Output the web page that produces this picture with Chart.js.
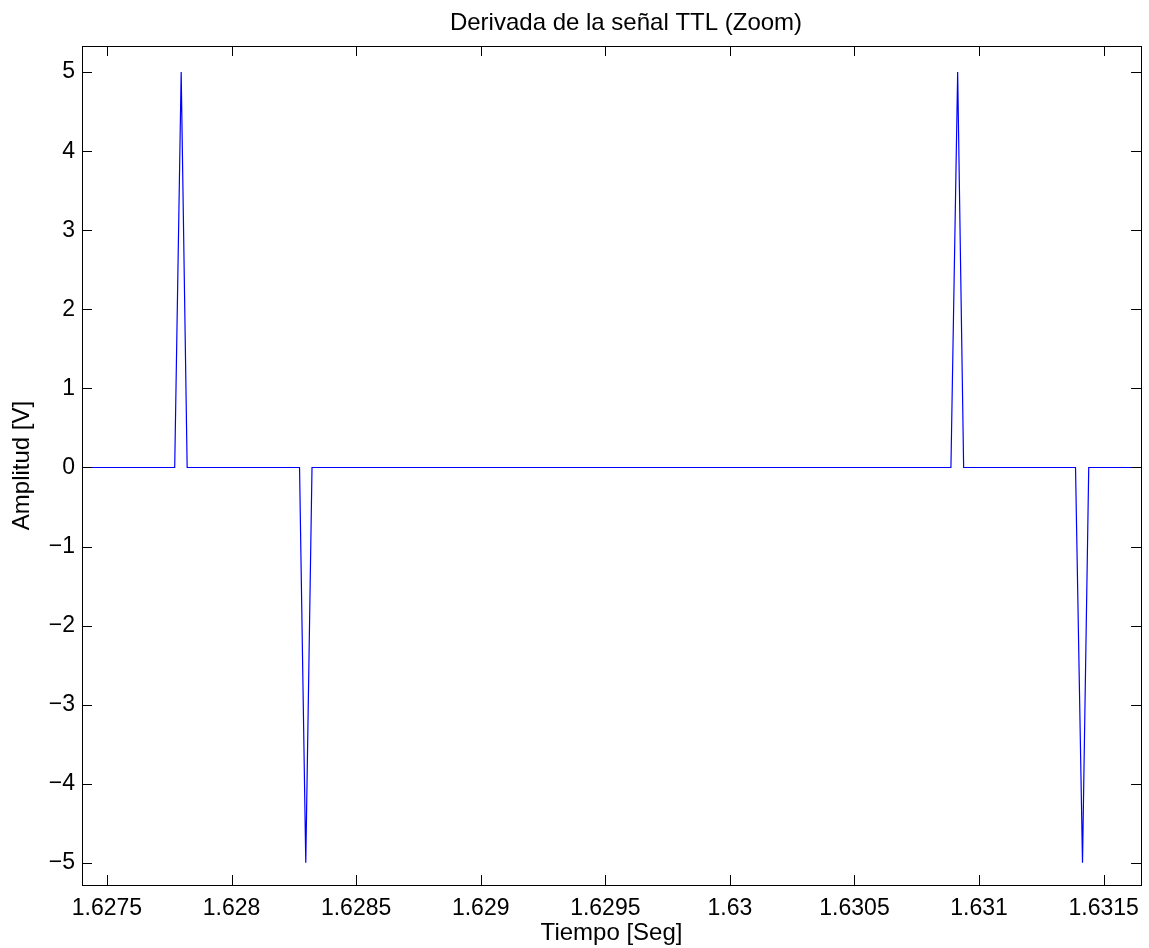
<!DOCTYPE html>
<html>
<head>
<meta charset="utf-8">
<title>Derivada de la señal TTL (Zoom)</title>
<script src="https://cdn.jsdelivr.net/npm/chart.js@4"></script>
<style>
  html, body { margin: 0; padding: 0; background: #fff; }
  #wrap { width: 1149px; height: 948px; }
</style>
</head>
<body>
<div id="wrap"><canvas id="chart" width="1149" height="948"></canvas></div>
<script>
// derivative of the TTL signal: samples around each edge
const timeSec = [1.6274, 1.627772, 1.627798, 1.627822, 1.628273, 1.628298, 1.628323,
  1.630887, 1.630914, 1.630938, 1.631387, 1.631415, 1.63144, 1.63166];
const amplitudeV = [0, 0, 5, 0, 0, -5, 0, 0, 5, 0, 0, -5, 0, 0];

const xTickValues = [1.6275, 1.628, 1.6285, 1.629, 1.6295, 1.63, 1.6305, 1.631, 1.6315];
const xTickLabels = ["1.6275", "1.628", "1.6285", "1.629", "1.6295", "1.63", "1.6305", "1.631", "1.6315"];
const yTickValues = [-5, -4, -3, -2, -1, 0, 1, 2, 3, 4, 5];
const yTickLabels = ["\u22125", "\u22124", "\u22123", "\u22122", "\u22121", "0", "1", "2", "3", "4", "5"];

const TITLE = "Derivada de la señal TTL (Zoom)";
const FONT = "'Liberation Sans', Arial, Helvetica, sans-serif";
const TICK_LEN = 10;

// box around the axes with inward tick marks on all four sides, plus the title
const matlabBox = {
  id: "matlabBox",
  afterDraw(chart) {
    const { ctx, chartArea: a, scales } = chart;
    ctx.save();
    ctx.strokeStyle = "#000";
    ctx.lineWidth = 1;
    ctx.beginPath();
    scales.x.ticks.forEach(t => {
      const px = Math.round(scales.x.getPixelForValue(t.value)) + 0.5;
      ctx.moveTo(px, a.bottom); ctx.lineTo(px, a.bottom - TICK_LEN);
      ctx.moveTo(px, a.top); ctx.lineTo(px, a.top + TICK_LEN);
    });
    scales.y.ticks.forEach(t => {
      const py = Math.round(scales.y.getPixelForValue(t.value)) + 0.5;
      ctx.moveTo(a.left, py); ctx.lineTo(a.left + TICK_LEN, py);
      ctx.moveTo(a.right, py); ctx.lineTo(a.right - TICK_LEN, py);
    });
    ctx.stroke();
    ctx.strokeRect(Math.round(a.left) + 0.5, Math.round(a.top) + 0.5,
      Math.round(a.right - a.left), Math.round(a.bottom - a.top));

    ctx.fillStyle = "#000";
    ctx.font = "24px " + FONT;
    ctx.textAlign = "center";
    ctx.textBaseline = "alphabetic";
    ctx.fillText(TITLE, 626, 30);
    ctx.restore();
  }
};

new Chart(document.getElementById("chart"), {
  type: "line",
  data: {
    datasets: [{
      data: timeSec.map((t, i) => ({ x: t, y: amplitudeV[i] })),
      borderColor: "#0000ff",
      borderWidth: 1.2,
      pointRadius: 0,
      tension: 0,
      fill: false
    }]
  },
  options: {
    responsive: false,
    animation: false,
    devicePixelRatio: 1,
    layout: { padding: { left: 0, right: 4, top: 46, bottom: 0 } },
    plugins: {
      legend: { display: false },
      tooltip: { enabled: false },
      title: { display: false }
    },
    scales: {
      x: {
        type: "linear",
        min: 1.6274,
        max: 1.63165,
        afterBuildTicks: s => { s.ticks = xTickValues.map(v => ({ value: v })); },
        afterFit: s => { s.height = 63; },
        grid: { display: false, drawTicks: false },
        border: { display: false },
        ticks: {
          color: "#000",
          padding: 10,
          maxRotation: 0,
          font: { family: FONT, size: 23 },
          callback: (v, i) => xTickLabels[i]
        },
        title: {
          display: true,
          text: "Tiempo [Seg]",
          color: "#000",
          font: { family: FONT, size: 24, lineHeight: 1.2 },
          padding: { top: 0, bottom: 0 }
        }
      },
      y: {
        min: -5.28,
        max: 5.33,
        afterBuildTicks: s => { s.ticks = yTickValues.map(v => ({ value: v })); },
        afterFit: s => { s.width = 82; },
        grid: { display: false, drawTicks: false },
        border: { display: false },
        ticks: {
          color: "#000",
          padding: 7,
          font: { family: FONT, size: 23 },
          callback: (v, i) => yTickLabels[i]
        },
        title: {
          display: true,
          text: "Amplitud [V]",
          color: "#000",
          font: { family: FONT, size: 24, lineHeight: 1.2 },
          padding: { top: 8, bottom: 0 }
        }
      }
    }
  },
  plugins: [matlabBox]
});
</script>
</body>
</html>
